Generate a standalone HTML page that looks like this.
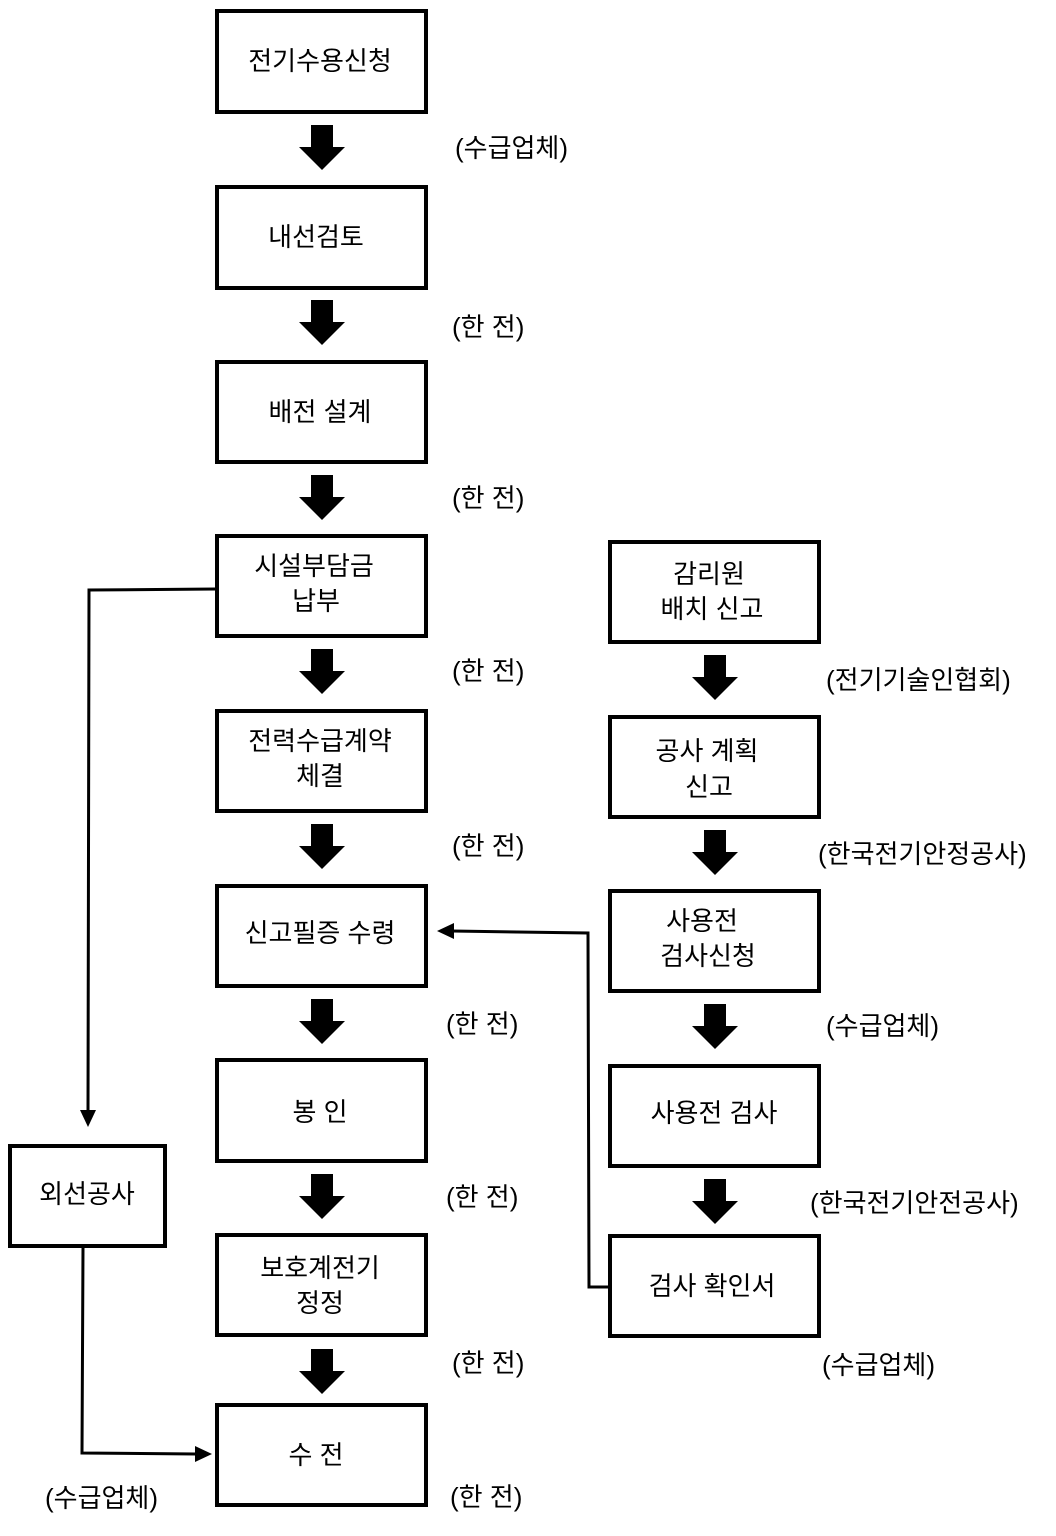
<!DOCTYPE html>
<html><head><meta charset="utf-8"><style>body{margin:0;background:#fff}svg text{font-family:"Liberation Sans","Noto Sans CJK KR",sans-serif;font-size:26px;fill:#000}</style></head><body>
<svg width="1056" height="1531" xmlns="http://www.w3.org/2000/svg">
<defs><g id="ba"><polygon points="-11,0 11,0 11,22 23,22 0,45 -23,22 -11,22"/></g></defs>
<g fill="none" stroke="#000" stroke-width="4">
<rect x="217" y="11" width="209" height="101"/>
<rect x="217" y="187" width="209" height="101"/>
<rect x="217" y="362" width="209" height="100"/>
<rect x="217" y="536" width="209" height="100"/>
<rect x="217" y="711" width="209" height="100"/>
<rect x="217" y="886" width="209" height="100"/>
<rect x="217" y="1060" width="209" height="101"/>
<rect x="217" y="1235" width="209" height="100"/>
<rect x="217" y="1405" width="209" height="100"/>
<rect x="610" y="542" width="209" height="100"/>
<rect x="610" y="717" width="209" height="100"/>
<rect x="610" y="891" width="209" height="100"/>
<rect x="610" y="1066" width="209" height="100"/>
<rect x="610" y="1236" width="209" height="100"/>
<rect x="10" y="1146" width="155" height="100"/>
</g>
<g fill="#000">
<use href="#ba" x="322" y="125"/><use href="#ba" x="322" y="300"/><use href="#ba" x="322" y="475"/><use href="#ba" x="322" y="649"/><use href="#ba" x="322" y="824"/><use href="#ba" x="322" y="999"/><use href="#ba" x="322" y="1174"/><use href="#ba" x="322" y="1349"/>
<use href="#ba" x="715" y="655"/><use href="#ba" x="715" y="830"/><use href="#ba" x="715" y="1004"/><use href="#ba" x="715" y="1179"/>
</g>
<g fill="none" stroke="#000" stroke-width="3">
<polyline points="216,589 89,590 88,1112"/>
<polyline points="83,1248 82,1453 196,1454"/>
<polyline points="609,1287 589,1287 588,933 452,931"/>
</g>
<g fill="#000">
<polygon points="80,1110 96,1110 88,1127"/>
<polygon points="195,1446 212,1454 195,1462"/>
<polygon points="454,923 437,931 454,939"/>
</g>
<g text-anchor="middle">
<text x="320" y="70">전기수용신청</text>
<text x="316" y="246">내선검토</text>
<text x="320" y="421">배전 설계</text>
<text x="314" y="575">시설부담금</text><text x="316" y="610">납부</text>
<text x="320" y="750">전력수급계약</text><text x="320" y="785">체결</text>
<text x="320" y="942">신고필증 수령</text>
<text x="320" y="1121">봉   인</text>
<text x="320" y="1277">보호계전기</text><text x="320" y="1312">정정</text>
<text x="316" y="1464">수  전</text>
<text x="709" y="583">감리원</text><text x="712" y="618">배치 신고</text>
<text x="707" y="760">공사 계획</text><text x="709" y="796">신고</text>
<text x="702" y="930">사용전</text><text x="708" y="965">검사신청</text>
<text x="714" y="1122">사용전 검사</text>
<text x="712" y="1295">검사 확인서</text>
<text x="87" y="1203">외선공사</text>
</g>
<g>
<text x="455" y="157">(수급업체)</text>
<text x="452" y="336">(한 전)</text>
<text x="452" y="507">(한 전)</text>
<text x="452" y="680">(한 전)</text>
<text x="452" y="855">(한 전)</text>
<text x="446" y="1033">(한 전)</text>
<text x="446" y="1206">(한 전)</text>
<text x="452" y="1372">(한 전)</text>
<text x="450" y="1506">(한 전)</text>
<text x="45" y="1507">(수급업체)</text>
<text x="826" y="689">(전기기술인협회)</text>
<text x="818" y="863">(한국전기안정공사)</text>
<text x="826" y="1035">(수급업체)</text>
<text x="810" y="1212">(한국전기안전공사)</text>
<text x="822" y="1374">(수급업체)</text>
</g>
</svg>
</body></html>
